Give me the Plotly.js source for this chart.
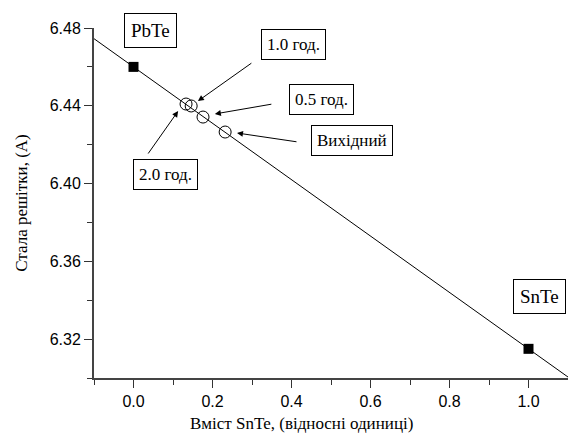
<!DOCTYPE html>
<html>
<head>
<meta charset="utf-8">
<script src="https://cdn.plot.ly/plotly-3.0.1.min.js"></script>
<style>html,body{margin:0;padding:0;background:#fff;}#chart{width:568px;height:435px;}</style>
</head>
<body>
<div id="chart"></div>
<script>
// Endpoint compounds
const endX = [0.0, 1.0];
const endY = [6.460, 6.315];
const endLabels = ["PbTe", "SnTe"];
// Samples after annealing
const sampleX = [0.133, 0.146, 0.176, 0.232];
const sampleY = [6.4409, 6.4399, 6.4342, 6.4265];
const sampleLabels = ["2.0 год.", "1.0 год.", "0.5 год.", "Вихідний"];
// Vegard line
const lineX = [-0.1, 1.1];
const lineY = [6.4745, 6.3005];
// Ticks
const xTicks = [0.0, 0.2, 0.4, 0.6, 0.8, 1.0];
const xTickText = ["0.0", "0.2", "0.4", "0.6", "0.8", "1.0"];
const yTicks = [6.32, 6.36, 6.40, 6.44, 6.48];
const yTickText = ["6.32", "6.36", "6.40", "6.44", "6.48"];

const serif = "Liberation Serif, Times New Roman, serif";
const sans = "Liberation Sans, Arial, sans-serif";

const traces = [
  {x: lineX, y: lineY, mode: "lines", line: {color: "#000", width: 1}, hoverinfo: "skip"},
  {x: endX, y: endY, mode: "markers", marker: {symbol: "square", size: 10, color: "#000"}},
  {x: sampleX, y: sampleY, mode: "markers",
   marker: {symbol: "circle-open", size: 12, color: "#000", line: {width: 1, color: "#000"}}}
];

function box(text, x, y, size, pad) {
  return {x: x, y: y, xref: "x", yref: "y", text: text, showarrow: false,
    font: {family: serif, size: size, color: "#000"},
    bordercolor: "#000", borderwidth: 1, borderpad: pad, bgcolor: "#fff"};
}
function arrow(i, ax, ay, dx, dy) {
  return {x: sampleX[i] + dx, y: sampleY[i] + dy, xref: "x", yref: "y", text: "",
    showarrow: true, arrowhead: 2, arrowsize: 1.2, arrowwidth: 1, arrowcolor: "#000",
    ax: ax, ay: ay, standoff: 0, startstandoff: 0};
}

const annotations = [
  box(endLabels[0], 0.042, 6.4785, 19, 6),
  box(endLabels[1], 1.029, 6.3421, 19, 6),
  box(sampleLabels[1], 0.406, 6.4713, 17, 5),
  box(sampleLabels[2], 0.477, 6.4430, 17, 5),
  box(sampleLabels[3], 0.553, 6.4224, 17, 5),
  box(sampleLabels[0], 0.080, 6.4049, 17, 5),
  arrow(1, 55, -39, 0.017, 0.0025),
  arrow(2, 58, -10, 0.030, 0.0016),
  arrow(3, 61, 9, 0.030, -0.0005),
  arrow(0, -31, 44, -0.020, -0.0036),
  {xref: "paper", yref: "paper", x: 0.437, y: -0.1286, yanchor: "middle", showarrow: false,
   text: "Вміст SnTe, (відносні одиниці)", font: {family: serif, size: 17, color: "#000"}}
];

const layout = {
  width: 568, height: 435,
  margin: {l: 94, r: 0, t: 28, b: 57},
  paper_bgcolor: "#fff", plot_bgcolor: "#fff",
  showlegend: false,
  xaxis: {
    range: [-0.1, 1.1], tickvals: xTicks, ticktext: xTickText,
    ticks: "outside", ticklen: 8, tickwidth: 1, tickcolor: "#333",
    showline: true, linecolor: "#444", linewidth: 2, showgrid: false, zeroline: false,
    tickfont: {family: sans, size: 16, color: "#000"},
    minor: {dtick: 0.1, tick0: 0, ticks: "outside", ticklen: 5, tickwidth: 1, tickcolor: "#333", showgrid: false}
  },
  yaxis: {
    range: [6.30, 6.48], tickvals: yTicks, ticktext: yTickText,
    ticks: "outside", ticklen: 8, tickwidth: 1, tickcolor: "#333",
    showline: true, linecolor: "#444", linewidth: 2, showgrid: false, zeroline: false,
    tickfont: {family: sans, size: 16, color: "#000"},
    minor: {dtick: 0.02, tick0: 6.30, ticks: "outside", ticklen: 5, tickwidth: 1, tickcolor: "#333", showgrid: false},
    title: {text: "Стала решітки, (А)", font: {family: serif, size: 17, color: "#000"}, standoff: 18}
  },
  annotations: annotations
};

Plotly.newPlot("chart", traces, layout, {displayModeBar: false, staticPlot: true});
</script>
</body>
</html>
